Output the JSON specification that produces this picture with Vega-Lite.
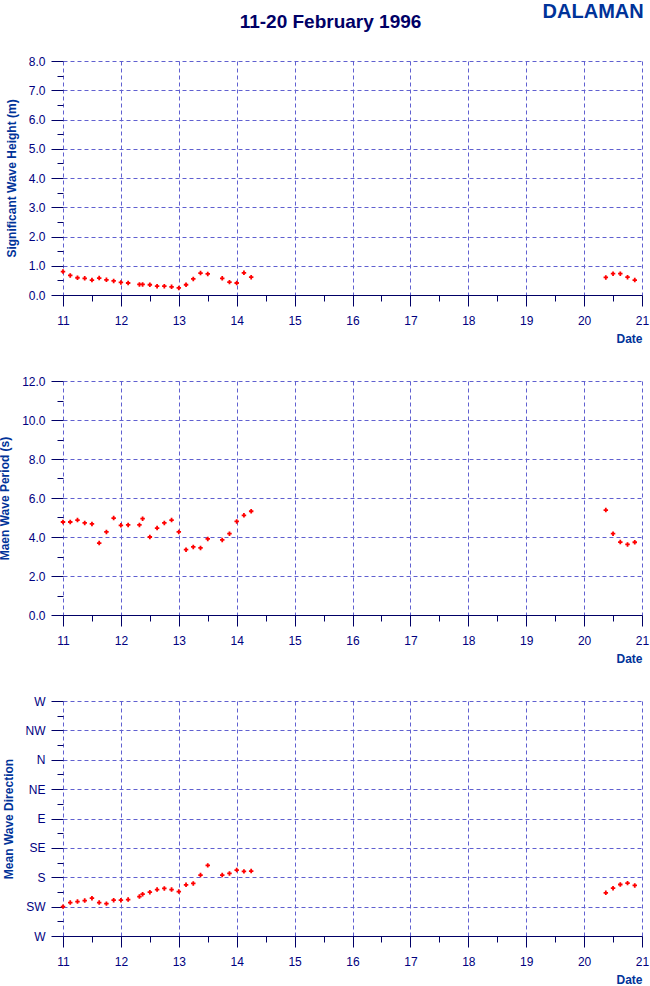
{
  "$schema": "https://vega.github.io/schema/vega-lite/v6.json",
  "padding": {"left": -2, "top": 2, "right": 5, "bottom": 5},
  "background": "white",
  "bounds": "flush",
  "spacing": 86,
  "title": {"text": "DALAMAN", "anchor": "end", "fontSize": 20, "font": "Liberation Sans", "fontWeight": "bold", "color": "#003399", "offset": -9, "dx": -5},
  "config": {
    "view": {"stroke": null},
    "font": "Liberation Sans",
    "axis": {
      "labelFont": "Liberation Sans",
      "labelFontSize": 12,
      "labelColor": "#000080",
      "titleFont": "Liberation Sans",
      "titleFontSize": 12,
      "titleFontWeight": "bold",
      "titleColor": "#003399",
      "tickColor": "#000066",
      "tickWidth": 1,
      "domainColor": "#000066",
      "domainWidth": 1,
      "gridColor": "#6060d0",
      "gridDash": [4, 3],
      "gridWidth": 1
    }
  },
  "datasets": {
    "waves": [
      {"day": 11.0, "hs": 0.80, "tm": 4.77, "dir": 225.0},
      {"day": 11.125, "hs": 0.67, "tm": 4.77, "dir": 218.8},
      {"day": 11.25, "hs": 0.59, "tm": 4.87, "dir": 217.3},
      {"day": 11.375, "hs": 0.57, "tm": 4.72, "dir": 215.7},
      {"day": 11.5, "hs": 0.51, "tm": 4.67, "dir": 212.1},
      {"day": 11.625, "hs": 0.58, "tm": 3.69, "dir": 218.8},
      {"day": 11.75, "hs": 0.52, "tm": 4.26, "dir": 220.4},
      {"day": 11.875, "hs": 0.48, "tm": 4.97, "dir": 215.2},
      {"day": 12.0, "hs": 0.43, "tm": 4.60, "dir": 215.2},
      {"day": 12.125, "hs": 0.41, "tm": 4.62, "dir": 214.2},
      {"day": 12.32, "hs": 0.36, "tm": 4.62, "dir": 209.6},
      {"day": 12.375, "hs": 0.36, "tm": 4.94, "dir": 206.0},
      {"day": 12.5, "hs": 0.35, "tm": 4.00, "dir": 202.9},
      {"day": 12.625, "hs": 0.30, "tm": 4.46, "dir": 198.8},
      {"day": 12.75, "hs": 0.30, "tm": 4.72, "dir": 197.2},
      {"day": 12.875, "hs": 0.28, "tm": 4.87, "dir": 198.8},
      {"day": 13.0, "hs": 0.24, "tm": 4.26, "dir": 201.9},
      {"day": 13.125, "hs": 0.35, "tm": 3.35, "dir": 191.6},
      {"day": 13.25, "hs": 0.55, "tm": 3.49, "dir": 189.5},
      {"day": 13.375, "hs": 0.75, "tm": 3.44, "dir": 176.7},
      {"day": 13.5, "hs": 0.72, "tm": 3.90, "dir": 161.8},
      {"day": 13.75, "hs": 0.57, "tm": 3.85, "dir": 176.7},
      {"day": 13.875, "hs": 0.44, "tm": 4.17, "dir": 174.1},
      {"day": 14.0, "hs": 0.41, "tm": 4.80, "dir": 169.0},
      {"day": 14.125, "hs": 0.76, "tm": 5.11, "dir": 171.0},
      {"day": 14.25, "hs": 0.61, "tm": 5.32, "dir": 170.5},
      {"day": 20.375, "hs": 0.60, "tm": 5.38, "dir": 203.9},
      {"day": 20.5, "hs": 0.73, "tm": 4.17, "dir": 196.7},
      {"day": 20.625, "hs": 0.73, "tm": 3.74, "dir": 191.1},
      {"day": 20.75, "hs": 0.61, "tm": 3.62, "dir": 189.0},
      {"day": 20.875, "hs": 0.51, "tm": 3.73, "dir": 192.6}
    ]
  },
  "vconcat": [
    {
      "width": 579,
      "height": 234,
      "title": {"text": "11-20 February 1996", "anchor": "middle", "fontSize": 19, "font": "Liberation Sans", "fontWeight": "bold", "color": "#000066", "dx": -22, "offset": 23},
      "data": {"name": "waves"},
      "mark": {"type": "point", "shape": "cross", "filled": true, "size": 20, "color": "#ff0000", "strokeWidth": 0, "opacity": 1},
      "encoding": {
        "x": {"field": "day", "type": "quantitative", "scale": {"domain": [11, 21], "nice": false, "zero": false},
          "axis": {"title": "Date", "titleAnchor": "end", "titleAlign": "right", "titlePadding": 7,
            "values": [11, 11.5, 12, 12.5, 13, 13.5, 14, 14.5, 15, 15.5, 16, 16.5, 17, 17.5, 18, 18.5, 19, 19.5, 20, 20.5, 21],
            "labelExpr": "datum.value % 1 === 0 ? format(datum.value, 'd') : ''",
            "labelPadding": 9, "labelFlush": false, "labelOverlap": false,
            "grid": true,
            "gridOpacity": {"condition": {"test": "datum.value % 1 !== 0", "value": 0}, "value": 1},
            "tickSize": {"condition": {"test": "datum.value % 1 !== 0", "value": 6}, "value": 11}}},
        "y": {"field": "hs", "type": "quantitative", "scale": {"domain": [0, 8], "nice": false},
          "axis": {"title": "Significant Wave Height (m)", "domain": false, "titlePadding": 10,
            "values": [0, 0.5, 1, 1.5, 2, 2.5, 3, 3.5, 4, 4.5, 5, 5.5, 6, 6.5, 7, 7.5, 8],
            "labelExpr": "datum.value % 1 === 0 ? format(datum.value, '.1f') : ''",
            "labelPadding": 6, "labelFlush": false, "labelOverlap": false,
            "grid": true,
            "gridOpacity": {"condition": {"test": "datum.value % 1 !== 0", "value": 0}, "value": 1},
            "tickSize": {"condition": {"test": "datum.value % 1 !== 0", "value": 6}, "value": 12}}}
      }
    },
    {
      "width": 579,
      "height": 234,
      "data": {"name": "waves"},
      "mark": {"type": "point", "shape": "cross", "filled": true, "size": 20, "color": "#ff0000", "strokeWidth": 0, "opacity": 1},
      "encoding": {
        "x": {"field": "day", "type": "quantitative", "scale": {"domain": [11, 21], "nice": false, "zero": false},
          "axis": {"title": "Date", "titleAnchor": "end", "titleAlign": "right", "titlePadding": 7,
            "values": [11, 11.5, 12, 12.5, 13, 13.5, 14, 14.5, 15, 15.5, 16, 16.5, 17, 17.5, 18, 18.5, 19, 19.5, 20, 20.5, 21],
            "labelExpr": "datum.value % 1 === 0 ? format(datum.value, 'd') : ''",
            "labelPadding": 9, "labelFlush": false, "labelOverlap": false,
            "grid": true,
            "gridOpacity": {"condition": {"test": "datum.value % 1 !== 0", "value": 0}, "value": 1},
            "tickSize": {"condition": {"test": "datum.value % 1 !== 0", "value": 6}, "value": 11}}},
        "y": {"field": "tm", "type": "quantitative", "scale": {"domain": [0, 12], "nice": false},
          "axis": {"title": "Maen Wave Period (s)", "domain": false, "titlePadding": 10,
            "values": [0, 1, 2, 3, 4, 5, 6, 7, 8, 9, 10, 11, 12],
            "labelExpr": "datum.value % 2 === 0 ? format(datum.value, '.1f') : ''",
            "labelPadding": 6, "labelFlush": false, "labelOverlap": false,
            "grid": true,
            "gridOpacity": {"condition": {"test": "datum.value % 2 !== 0", "value": 0}, "value": 1},
            "tickSize": {"condition": {"test": "datum.value % 2 !== 0", "value": 6}, "value": 12}}}
      }
    },
    {
      "width": 579,
      "height": 235,
      "data": {"name": "waves"},
      "mark": {"type": "point", "shape": "cross", "filled": true, "size": 20, "color": "#ff0000", "strokeWidth": 0, "opacity": 1},
      "encoding": {
        "x": {"field": "day", "type": "quantitative", "scale": {"domain": [11, 21], "nice": false, "zero": false},
          "axis": {"title": "Date", "titleAnchor": "end", "titleAlign": "right", "titlePadding": 7,
            "values": [11, 11.5, 12, 12.5, 13, 13.5, 14, 14.5, 15, 15.5, 16, 16.5, 17, 17.5, 18, 18.5, 19, 19.5, 20, 20.5, 21],
            "labelExpr": "datum.value % 1 === 0 ? format(datum.value, 'd') : ''",
            "labelPadding": 9, "labelFlush": false, "labelOverlap": false,
            "grid": true,
            "gridOpacity": {"condition": {"test": "datum.value % 1 !== 0", "value": 0}, "value": 1},
            "tickSize": {"condition": {"test": "datum.value % 1 !== 0", "value": 6}, "value": 11}}},
        "y": {"field": "dir", "type": "quantitative", "scale": {"domain": [270, -90], "nice": false, "zero": false},
          "axis": {"title": "Mean Wave Direction", "domain": false, "titlePadding": 10,
            "values": [270, 247.5, 225, 202.5, 180, 157.5, 135, 112.5, 90, 67.5, 45, 22.5, 0, -22.5, -45, -67.5, -90],
            "labelExpr": "datum.value == 270 || datum.value == -90 ? 'W' : datum.value == 225 ? 'SW' : datum.value == 180 ? 'S' : datum.value == 135 ? 'SE' : datum.value == 90 ? 'E' : datum.value == 45 ? 'NE' : datum.value == 0 ? 'N' : datum.value == -45 ? 'NW' : ''",
            "labelPadding": 6, "labelFlush": false, "labelOverlap": false,
            "grid": true,
            "gridOpacity": {"condition": {"test": "datum.value % 45 !== 0", "value": 0}, "value": 1},
            "tickSize": {"condition": {"test": "datum.value % 45 !== 0", "value": 6}, "value": 12}}}
      }
    }
  ]
}
